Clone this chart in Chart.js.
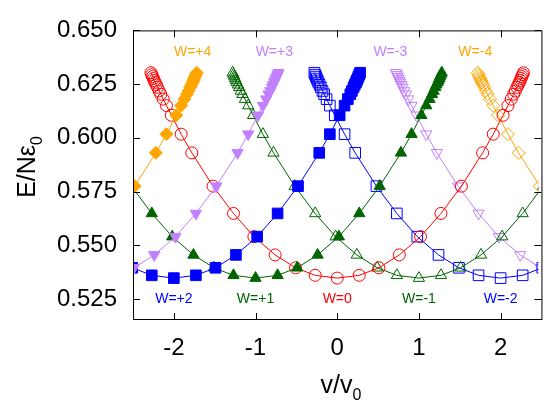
<!DOCTYPE html>
<html>
<head>
<meta charset="utf-8">
<script src="https://cdn.jsdelivr.net/npm/chart.js@4.4.1/dist/chart.umd.min.js"></script>
<style>
  html, body { margin: 0; padding: 0; background: #fff; overflow: hidden; }
  canvas { display: block; }
</style>
</head>
<body>
<canvas id="chart" width="547" height="403"></canvas>
<script>
const shift = [0, 0.27, 0.51, 0.76, 1.02, 1.27, 1.52, 1.78, 1.91, 2.03, 2.09, 2.13, 2.16, 2.18, 2.20, 2.215, 2.23, 2.24, 2.25, 2.26, 2.27, 2.28];
const energy = [0.5347, 0.5360, 0.5395, 0.5455, 0.5540, 0.5648, 0.5775, 0.5930, 0.6017, 0.6105, 0.6150, 0.6180, 0.6203, 0.6218, 0.6235, 0.6247, 0.6258, 0.6267, 0.6276, 0.6285, 0.6294, 0.6303];

// the winding numbers and where each curve has its minimum
const windings = ['+4', '+3', '+2', '+1', '0', '-1', '-2', '-3', '-4'];
const minima = [-4, -3, -2, -1, 0, 1, 2, 3, 4];
const colors = ['#ffa500', '#c080ff', '#0000ff', '#006400', '#ff0000', '#006400', '#0000ff', '#c080ff', '#ffa500'];
const markers = ['rectRot', 'triangle', 'rect', 'triangle', 'circle', 'triangle', 'rect', 'triangle', 'rectRot'];
const filled = [true, true, true, true, false, false, false, false, false];

const xTicks = [-2, -1, 0, 1, 2];
const yTicks = [0.525, 0.550, 0.575, 0.600, 0.625, 0.650];

// curve labels, in data coordinates
const labelText = ['W=+4', 'W=+3', 'W=-3', 'W=-4', 'W=+2', 'W=+1', 'W=0', 'W=-1', 'W=-2'];
const labelX = [-1.77, -0.77, 0.65, 1.69, -2, -1, 0, 1, 2];
const labelY = [0.6397, 0.6397, 0.6397, 0.6397, 0.525, 0.525, 0.525, 0.525, 0.525];
const labelColor = ['#ffa500', '#c080ff', '#c080ff', '#ffa500', '#0000ff', '#006400', '#ff0000', '#006400', '#0000ff'];

const family = "'Liberation Sans', Arial, sans-serif";

const datasets = windings.map((w, i) => {
  const pts = [];
  for (let k = shift.length - 1; k > 0; k--) pts.push({ x: minima[i] - shift[k], y: energy[k] });
  for (let k = 0; k < shift.length; k++) pts.push({ x: minima[i] + shift[k], y: energy[k] });
  const m = markers[i];
  return {
    label: 'W=' + w,
    data: pts,
    showLine: true,
    borderColor: colors[i],
    borderWidth: 1,
    pointStyle: m,
    pointRotation: (i === 1 || i === 7) ? 180 : 0,
    pointRadius: m === 'rect' ? 7.5 : m === 'circle' ? 6 : 6.5,
    pointBorderWidth: 1,
    pointBorderColor: colors[i],
    pointBackgroundColor: filled[i] ? colors[i] : 'rgba(0,0,0,0)',
  };
});

function drawSub(ctx, main, sub, cx, base) {
  ctx.font = '25px ' + family;
  const w1 = ctx.measureText(main).width;
  ctx.font = '16px ' + family;
  const w2 = ctx.measureText(sub).width;
  const x0 = cx - (w1 + w2) / 2;
  ctx.textAlign = 'left';
  ctx.textBaseline = 'alphabetic';
  ctx.font = '25px ' + family;
  ctx.fillText(main, x0, base);
  ctx.font = '16px ' + family;
  ctx.fillText(sub, x0 + w1, base + 7);
}

// box, inward ticks, curve labels and axis titles
const frame = {
  id: 'frame',
  afterDatasetsDraw(chart) {
    const { ctx, chartArea: a, scales: { x, y } } = chart;
    const right = x.getPixelForValue(2.5);
    ctx.save();
    ctx.strokeStyle = '#000';
    ctx.lineWidth = 1;
    ctx.strokeRect(a.left + 0.5, a.top + 0.5, right - a.left, a.bottom - a.top - 1);
    ctx.beginPath();
    xTicks.forEach(v => {
      const px = Math.round(x.getPixelForValue(v)) + 0.5;
      ctx.moveTo(px, a.bottom); ctx.lineTo(px, a.bottom - 7);
      ctx.moveTo(px, a.top); ctx.lineTo(px, a.top + 7);
    });
    yTicks.forEach(v => {
      const py = Math.round(y.getPixelForValue(v)) + 0.5;
      ctx.moveTo(a.left, py); ctx.lineTo(a.left + 7, py);
      ctx.moveTo(right, py); ctx.lineTo(right - 7, py);
    });
    ctx.stroke();

    ctx.font = '14px ' + family;
    ctx.textAlign = 'center';
    ctx.textBaseline = 'middle';
    labelText.forEach((t, i) => {
      ctx.fillStyle = labelColor[i];
      ctx.fillText(t, x.getPixelForValue(labelX[i]), y.getPixelForValue(labelY[i]));
    });

    ctx.fillStyle = '#000';
    ctx.save();
    ctx.translate(35, 167);
    ctx.rotate(-Math.PI / 2);
    drawSub(ctx, 'E/N\u03b5', '0', 0, 0);
    ctx.restore();
    drawSub(ctx, 'v/v', '0', 341, 393);
    ctx.restore();
  }
};

new Chart(document.getElementById('chart'), {
  type: 'scatter',
  data: { datasets },
  plugins: [frame],
  options: {
    responsive: false,
    animation: false,
    devicePixelRatio: 1,
    layout: { padding: { top: 20, left: 0, right: 0, bottom: 0 } },
    plugins: { legend: { display: false }, tooltip: { enabled: false } },
    elements: { line: { tension: 0 } },
    scales: {
      x: {
        type: 'linear',
        min: -2.5,
        max: 2.464,
        afterBuildTicks: s => { s.ticks = xTicks.map(v => ({ value: v })); },
        afterFit: s => { s.height = 83; },
        grid: { display: false, drawTicks: false },
        border: { display: false },
        ticks: { padding: 14, color: '#000', font: { family, size: 24 }, autoSkip: false, maxRotation: 0, callback: v => String(v) }
      },
      y: {
        type: 'linear',
        min: 0.5152,
        max: 0.650,
        afterBuildTicks: s => { s.ticks = yTicks.map(v => ({ value: v })); },
        afterFit: s => { s.width = 133; },
        grid: { display: false, drawTicks: false },
        border: { display: false },
        ticks: { padding: 16, color: '#000', font: { family, size: 24 }, autoSkip: false, callback: v => v.toFixed(3) }
      }
    }
  }
});
</script>
</body>
</html>
